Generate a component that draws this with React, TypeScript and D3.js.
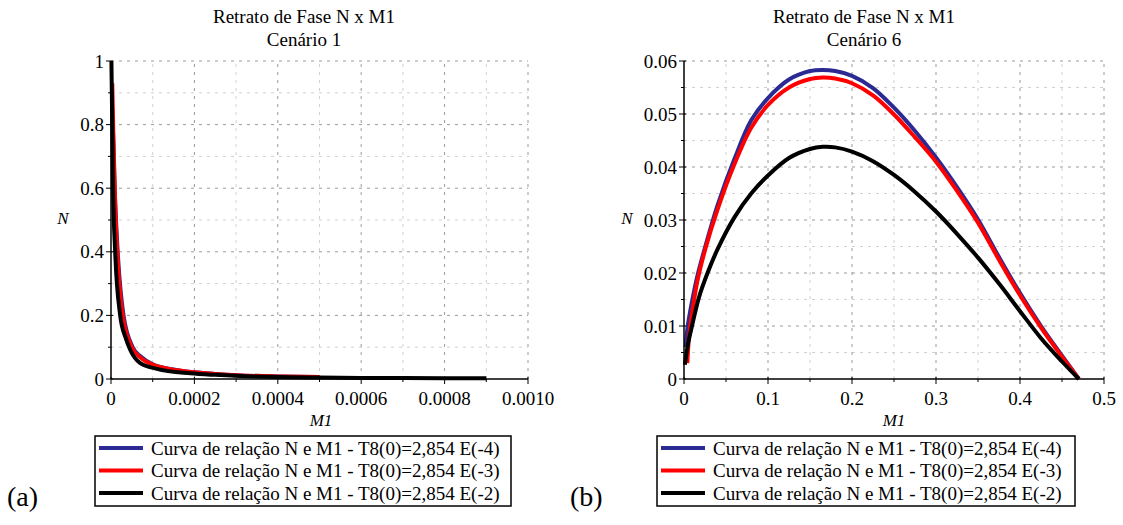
import React from "react";
import * as d3 from "d3";

// ---------- DATA ----------
const legendLabels = [
  "Curva de relação N e M1 - T8(0)=2,854 E(-4)",
  "Curva de relação N e M1 - T8(0)=2,854 E(-3)",
  "Curva de relação N e M1 - T8(0)=2,854 E(-2)",
];
const seriesColors = ["#2a2a92", "#ff0000", "#000000"];

// Panel (a) – Cenário 1
const aBlueM1 = [0.000005, 0.000008, 0.000012, 0.000017, 0.00003, 0.000052, 0.000072, 0.0001, 0.00015, 0.0002, 0.00025, 0.0003, 0.0004, 0.0005];
const aBlueN = [0.77, 0.63, 0.5, 0.38, 0.2, 0.1, 0.07, 0.046, 0.03, 0.021, 0.016, 0.012, 0.008, 0.006];
const aRedM1 = [0.000003, 0.000006, 0.00001, 0.000015, 0.000028, 0.00005, 0.00007, 0.0001, 0.00015, 0.0002, 0.00025, 0.0003, 0.0004, 0.0005];
const aRedN = [0.93, 0.75, 0.55, 0.4, 0.2, 0.1, 0.068, 0.045, 0.029, 0.021, 0.016, 0.012, 0.008, 0.006];
const aBlackM1 = [0.000001, 0.000003, 0.000005, 0.00001, 0.000022, 0.000035, 0.000046, 0.00007, 0.00011, 0.00019, 0.00025, 0.0003, 0.0004, 0.0005, 0.0006, 0.0007, 0.0008, 0.0009];
const aBlackN = [1.0, 0.8, 0.6, 0.4, 0.2, 0.13, 0.092, 0.05, 0.032, 0.018, 0.013, 0.01, 0.006, 0.0045, 0.0035, 0.0028, 0.0023, 0.002];

// Panel (b) – Cenário 6
const bBlueM1 = [0.002, 0.004, 0.01, 0.016, 0.025, 0.04, 0.06, 0.08, 0.1, 0.125, 0.15, 0.165, 0.18, 0.2, 0.225, 0.25, 0.275, 0.3, 0.325, 0.35, 0.375, 0.4, 0.425, 0.45, 0.47];
const bBlueN = [0.006, 0.0095, 0.015, 0.0195, 0.0248, 0.0328, 0.0415, 0.0488, 0.053, 0.0565, 0.0581, 0.0583, 0.0581, 0.0572, 0.0549, 0.0512, 0.0468, 0.0418, 0.0362, 0.0301, 0.023, 0.0162, 0.01, 0.0044, 0.0];
const bRedM1 = [0.004, 0.006, 0.01, 0.016, 0.025, 0.04, 0.06, 0.08, 0.1, 0.125, 0.15, 0.165, 0.18, 0.2, 0.225, 0.25, 0.275, 0.3, 0.325, 0.35, 0.375, 0.4, 0.425, 0.45, 0.47];
const bRedN = [0.003, 0.008, 0.0128, 0.0185, 0.0243, 0.032, 0.0405, 0.0474, 0.0517, 0.055, 0.0566, 0.0569, 0.0567, 0.0558, 0.0535, 0.0499, 0.0456, 0.041, 0.0355, 0.0295, 0.0225, 0.0158, 0.0097, 0.0042, 0.0];
const bBlackM1 = [0.001, 0.005, 0.0095, 0.018, 0.028, 0.04, 0.06, 0.08, 0.1, 0.125, 0.15, 0.165, 0.18, 0.2, 0.225, 0.25, 0.275, 0.3, 0.325, 0.35, 0.375, 0.4, 0.425, 0.45, 0.47];
const bBlackN = [0.0027, 0.0068, 0.01, 0.0155, 0.02, 0.0245, 0.0305, 0.035, 0.0384, 0.0417, 0.0434, 0.0438, 0.0437, 0.0429, 0.0411, 0.0385, 0.0353, 0.0316, 0.0274, 0.0229, 0.018, 0.0128, 0.0077, 0.0033, 0.0];

// Axis ticks
const aXTicks = [0, 0.0002, 0.0004, 0.0006, 0.0008, 0.001];
const aXTickLabels = ["0", "0.0002", "0.0004", "0.0006", "0.0008", "0.0010"];
const aXMinor = [0.0001, 0.0003, 0.0005, 0.0007, 0.0009];
const aYTicks = [0, 0.2, 0.4, 0.6, 0.8, 1];
const aYTickLabels = ["0", "0.2", "0.4", "0.6", "0.8", "1"];
const aYMinor = [0.1, 0.3, 0.5, 0.7, 0.9];

const bXTicks = [0, 0.1, 0.2, 0.3, 0.4, 0.5];
const bXTickLabels = ["0", "0.1", "0.2", "0.3", "0.4", "0.5"];
const bXMinor = [0.05, 0.15, 0.25, 0.35, 0.45];
const bYTicks = [0, 0.01, 0.02, 0.03, 0.04, 0.05, 0.06];
const bYTickLabels = ["0", "0.01", "0.02", "0.03", "0.04", "0.05", "0.06"];
const bYMinor = [0.005, 0.015, 0.025, 0.035, 0.045, 0.055];

const FONT = "Liberation Serif";

type Series = { x: number[]; y: number[]; color: string };

function Panel(props: {
  x0: number; x1: number; y0: number; y1: number;
  xDomain: [number, number]; yDomain: [number, number];
  xTicks: number[]; xTickLabels: string[]; xMinor: number[];
  yTicks: number[]; yTickLabels: string[]; yMinor: number[];
  series: Series[]; curve: d3.CurveFactory;
  title1: string; title2: string; titleX: number;
  nX: number; m1X: number;
  legendX0: number; legendX1: number;
  letter: string; letterX: number;
}) {
  const p = props;
  const xs = d3.scaleLinear().domain(p.xDomain).range([p.x0, p.x1]);
  const ys = d3.scaleLinear().domain(p.yDomain).range([p.y1, p.y0]);
  const line = d3.line<[number, number]>()
    .x((d) => xs(d[0]))
    .y((d) => ys(d[1]))
    .curve(p.curve);
  const gridMajor = { stroke: "#9a9a9a", strokeWidth: 1, strokeDasharray: "3,5" };
  const gridMinor = { stroke: "#d0d0d0", strokeWidth: 1, strokeDasharray: "3,5" };
  const rows = [448, 470.5, 493];
  const txt = { fontFamily: FONT, fontSize: 19 } as React.CSSProperties;
  return (
    <g>
      <text x={p.titleX} y={23} textAnchor="middle" style={txt}>{p.title1}</text>
      <text x={p.titleX} y={46} textAnchor="middle" style={txt}>{p.title2}</text>
      {p.xMinor.map((v, i) => (
        <line key={"xm" + i} x1={xs(v)} x2={xs(v)} y1={ys(p.yDomain[0])} y2={ys(p.yDomain[1])} {...gridMinor} />
      ))}
      {p.yMinor.map((v, i) => (
        <line key={"ym" + i} x1={xs(p.xDomain[0])} x2={xs(p.xDomain[1])} y1={ys(v)} y2={ys(v)} {...gridMinor} />
      ))}
      {p.xTicks.slice(1).map((v, i) => (
        <line key={"xg" + i} x1={xs(v)} x2={xs(v)} y1={ys(p.yDomain[0])} y2={ys(p.yDomain[1])} {...gridMajor} />
      ))}
      {p.yTicks.slice(1).map((v, i) => (
        <line key={"yg" + i} x1={xs(p.xDomain[0])} x2={xs(p.xDomain[1])} y1={ys(v)} y2={ys(v)} {...gridMajor} />
      ))}
      {p.series.map((s, i) => (
        <path key={"s" + i}
          d={line(s.x.map((xv, j) => [xv, s.y[j]] as [number, number])) || ""}
          fill="none" stroke={s.color} strokeWidth={4} strokeLinejoin="round" strokeLinecap="butt" />
      ))}
      <line x1={xs(p.xDomain[0])} x2={xs(p.xDomain[1])} y1={ys(0)} y2={ys(0)} stroke="#000" strokeWidth={1.5} />
      <line x1={xs(0)} x2={xs(0)} y1={ys(p.yDomain[0])} y2={ys(p.yDomain[1])} stroke="#000" strokeWidth={1.5} />
      {p.xTicks.map((v, i) => (
        <g key={"xt" + i}>
          <line x1={xs(v)} x2={xs(v)} y1={ys(0) - 2} y2={ys(0) + 5} stroke="#000" strokeWidth={1} />
          <text x={xs(v)} y={405} textAnchor="middle" style={txt}>{p.xTickLabels[i]}</text>
        </g>
      ))}
      {p.xMinor.map((v, i) => (
        <line key={"xmt" + i} x1={xs(v)} x2={xs(v)} y1={ys(0)} y2={ys(0) + 3} stroke="#000" strokeWidth={1} />
      ))}
      {p.yTicks.map((v, i) => (
        <g key={"yt" + i}>
          <line x1={xs(0) - 5} x2={xs(0) + 2} y1={ys(v)} y2={ys(v)} stroke="#000" strokeWidth={1} />
          <text x={xs(0) - 7} y={ys(v) + 6.5} textAnchor="end" style={txt}>{p.yTickLabels[i]}</text>
        </g>
      ))}
      {p.yMinor.map((v, i) => (
        <line key={"ymt" + i} x1={xs(0) - 3} x2={xs(0)} y1={ys(v)} y2={ys(v)} stroke="#000" strokeWidth={1} />
      ))}
      <text x={p.m1X} y={426} textAnchor="middle" style={{ fontFamily: FONT, fontSize: 17, fontStyle: "italic" }}>M1</text>
      <text x={p.nX} y={224} textAnchor="middle" style={{ fontFamily: FONT, fontSize: 17, fontStyle: "italic" }}>N</text>
      <rect x={p.legendX0} y={436} width={p.legendX1 - p.legendX0} height={70} fill="#fff" stroke="#000" strokeWidth={1.5} />
      {legendLabels.map((lab, i) => (
        <g key={"lg" + i}>
          <line x1={p.legendX0 + 4} x2={p.legendX0 + 48} y1={rows[i]} y2={rows[i]} stroke={seriesColors[i]} strokeWidth={4} />
          <text x={p.legendX0 + 56} y={rows[i] + 6.5} style={txt}>{lab}</text>
        </g>
      ))}
      <text x={p.letterX} y={506} style={{ fontFamily: FONT, fontSize: 28 }}>{p.letter}</text>
    </g>
  );
}

export default function App() {
  const aSeries: Series[] = [
    { x: aBlueM1, y: aBlueN, color: seriesColors[0] },
    { x: aRedM1, y: aRedN, color: seriesColors[1] },
    { x: aBlackM1, y: aBlackN, color: seriesColors[2] },
  ];
  const bSeries: Series[] = [
    { x: bBlueM1, y: bBlueN, color: seriesColors[0] },
    { x: bRedM1, y: bRedN, color: seriesColors[1] },
    { x: bBlackM1, y: bBlackN, color: seriesColors[2] },
  ];
  return (
    <svg width={1123} height={525} style={{ position: "absolute", left: 0, top: 0, background: "#fff" }}>
      <rect x={0} y={0} width={1123} height={525} fill="#fff" />
      <Panel x0={111} x1={528} y0={61} y1={379}
        xDomain={[0, 0.001]} yDomain={[0, 1]}
        xTicks={aXTicks} xTickLabels={aXTickLabels} xMinor={aXMinor}
        yTicks={aYTicks} yTickLabels={aYTickLabels} yMinor={aYMinor}
        series={aSeries} curve={d3.curveMonotoneX}
        title1="Retrato de Fase N x M1" title2="Cenário 1" titleX={304}
        nX={63} m1X={321}
        legendX0={95} legendX1={511}
        letter="(a)" letterX={7} />
      <Panel x0={684} x1={1104} y0={61} y1={379}
        xDomain={[0, 0.5]} yDomain={[0, 0.06]}
        xTicks={bXTicks} xTickLabels={bXTickLabels} xMinor={bXMinor}
        yTicks={bYTicks} yTickLabels={bYTickLabels} yMinor={bYMinor}
        series={bSeries} curve={d3.curveCatmullRom.alpha(0.5)}
        title1="Retrato de Fase N x M1" title2="Cenário 6" titleX={864}
        nX={627} m1X={894}
        legendX0={657} legendX1={1075}
        letter="(b)" letterX={570} />
    </svg>
  );
}
